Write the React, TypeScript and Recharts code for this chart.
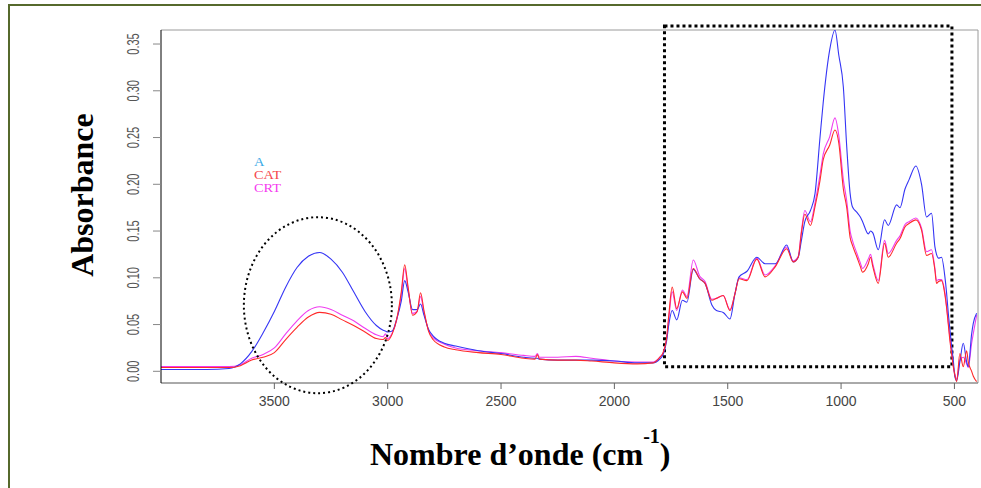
import React from "react";
import {
  LineChart,
  Line,
  XAxis,
  YAxis,
  ReferenceArea,
  ReferenceDot,
  ReferenceLine,
} from "recharts";

// FTIR spectra (wavenumber in cm-1, absorbance)
const wavenumber = [
  4000, 3900, 3800, 3700, 3650, 3600, 3550, 3500, 3450, 3400, 3350, 3300, 3250,
  3200, 3150, 3100, 3050, 3020, 3010, 3000, 2980, 2960, 2940, 2925, 2910, 2890,
  2870, 2855, 2840, 2820, 2800, 2750, 2700, 2600, 2500, 2400, 2350, 2340, 2330,
  2250, 2170, 2100, 2000, 1900, 1830, 1800, 1785, 1770, 1760, 1745, 1725, 1700,
  1680, 1652, 1624, 1600, 1570, 1550, 1520, 1490, 1468, 1450, 1415, 1372, 1335,
  1290, 1240, 1211, 1189, 1175, 1160, 1135, 1115, 1093, 1079, 1050, 1027, 1010,
  990, 975, 960, 950, 930, 915, 905, 880, 870, 860, 836, 808, 792, 755, 740, 718,
  700, 670, 645, 623, 601, 586, 579, 570, 557, 542, 535, 527, 520, 512, 505, 498,
  490, 476, 461, 446, 439, 424, 417, 402,
];

const seriesA = [
  0.002, 0.002, 0.002, 0.003, 0.008, 0.021, 0.041, 0.064, 0.09, 0.111, 0.123,
  0.127, 0.12, 0.106, 0.085, 0.064, 0.049, 0.044, 0.043, 0.042, 0.043, 0.056,
  0.075, 0.097, 0.085, 0.066, 0.066, 0.072, 0.06, 0.045, 0.038, 0.03, 0.027,
  0.022, 0.019, 0.015, 0.014, 0.014, 0.013, 0.012, 0.012, 0.012, 0.011, 0.009,
  0.009, 0.013, 0.018, 0.032, 0.05, 0.065, 0.055, 0.076, 0.074, 0.109, 0.099,
  0.094, 0.071, 0.065, 0.063, 0.056, 0.083, 0.101, 0.107, 0.122, 0.115, 0.115,
  0.135, 0.117, 0.122, 0.14, 0.16, 0.172, 0.19, 0.25, 0.287, 0.344, 0.365,
  0.338, 0.304, 0.24, 0.19, 0.176, 0.17, 0.165, 0.16, 0.147, 0.15, 0.148, 0.13,
  0.162, 0.156, 0.178, 0.175, 0.195, 0.205, 0.2195, 0.2, 0.165, 0.169, 0.133,
  0.125, 0.121, 0.122, 0.101, 0.085, 0.062, 0.045, 0.026, 0.012, -0.006, -0.01,
  0.01, 0.03, 0.01, 0.005, 0.04, 0.051, 0.062,
];

const seriesCAT = [
  0.004, 0.004, 0.004, 0.004, 0.006, 0.012, 0.015, 0.02, 0.034, 0.047, 0.058,
  0.063, 0.061, 0.055, 0.049, 0.042, 0.035, 0.034, 0.036, 0.033, 0.04, 0.056,
  0.085, 0.114, 0.09, 0.06, 0.064, 0.084, 0.065, 0.043, 0.034, 0.026, 0.023,
  0.02, 0.018, 0.014, 0.013, 0.018, 0.013, 0.012, 0.012, 0.011, 0.009, 0.008,
  0.009, 0.015, 0.02, 0.035, 0.06, 0.09, 0.067, 0.085, 0.078, 0.11, 0.099,
  0.094, 0.076, 0.078, 0.081, 0.065, 0.083, 0.099, 0.097, 0.12, 0.101, 0.112,
  0.131, 0.117, 0.122, 0.148, 0.168, 0.156, 0.176, 0.204, 0.226, 0.242, 0.258,
  0.244, 0.195, 0.175, 0.143, 0.135, 0.122, 0.112, 0.106, 0.115, 0.122, 0.112,
  0.094, 0.137, 0.122, 0.137, 0.142, 0.1545, 0.158, 0.162, 0.151, 0.124, 0.126,
  0.108, 0.094, 0.096, 0.097, 0.082, 0.069, 0.05, 0.033, 0.018, 0.005, -0.004,
  -0.011, 0.019, 0.005, 0.022, 0.01, 0.0, -0.005, -0.011,
];

const seriesCRT = [
  0.005, 0.005, 0.005, 0.005, 0.007, 0.014, 0.018, 0.025, 0.04, 0.054, 0.065,
  0.069, 0.066, 0.06, 0.054, 0.046, 0.039, 0.037, 0.04, 0.035, 0.041, 0.055,
  0.082, 0.11, 0.088, 0.062, 0.064, 0.08, 0.063, 0.044, 0.036, 0.029, 0.025,
  0.022, 0.02, 0.017, 0.016, 0.019, 0.015, 0.015, 0.016, 0.014, 0.011, 0.01,
  0.01, 0.015, 0.02, 0.034, 0.056, 0.085, 0.065, 0.087, 0.08, 0.119, 0.102,
  0.096, 0.077, 0.078, 0.081, 0.066, 0.083, 0.1, 0.098, 0.121, 0.103, 0.113,
  0.133, 0.118, 0.123, 0.15, 0.172, 0.16, 0.18, 0.21, 0.232, 0.251, 0.271,
  0.252, 0.205, 0.182, 0.15, 0.14, 0.126, 0.116, 0.11, 0.12, 0.125, 0.115,
  0.097, 0.14, 0.126, 0.14, 0.145, 0.157, 0.16, 0.164, 0.153, 0.128, 0.13,
  0.11, 0.097, 0.098, 0.098, 0.084, 0.07, 0.052, 0.036, 0.02, 0.006, -0.003,
  -0.008, 0.012, 0.015, 0.008, 0.004, 0.03, 0.04, 0.06,
];

const xTicks = [3500, 3000, 2500, 2000, 1500, 1000, 500];
const yTicks = [0, 0.05, 0.1, 0.15, 0.2, 0.25, 0.3, 0.35];

const legendItems = [
  { name: "A", color: "#36a9e6" },
  { name: "CAT", color: "#f5474c" },
  { name: "CRT", color: "#f53cf0" },
];

const data = wavenumber.map((w, i) => ({
  w,
  A: seriesA[i],
  CAT: seriesCAT[i],
  CRT: seriesCRT[i],
}));

const SANS = "'Liberation Sans', Arial, Helvetica, sans-serif";
const SERIF = "'Liberation Serif', 'Times New Roman', serif";

function YTick({ x, y, payload }: any) {
  return (
    <text
      transform={`translate(${x - 17},${y}) scale(1.45,1) rotate(-90)`}
      textAnchor="middle"
      dominantBaseline="central"
      fill="#555"
      fontSize={11}
      fontFamily={SANS}
    >
      {Number(payload.value).toFixed(2)}
    </text>
  );
}

const dottedEllipse = (props: any) => (
  <ellipse
    cx={props.cx}
    cy={props.cy}
    rx={74}
    ry={88}
    fill="none"
    stroke="#000"
    strokeWidth={2}
    strokeDasharray="2 3"
  />
);

export default function App() {
  return (
    <div
      style={{
        position: "fixed",
        left: 0,
        top: 0,
        width: 981,
        height: 488,
        overflow: "hidden",
        background: "#fff",
      }}
    >
      <div
        style={{
          position: "absolute",
          left: 8,
          top: 4,
          width: 1000,
          height: 520,
          border: "2px solid #56692c",
        }}
      />
      <div style={{ position: "absolute", left: 0, top: 0 }}>
        <LineChart
          width={981}
          height={488}
          data={data}
          margin={{ top: 30, right: 3, bottom: 75, left: 101 }}
        >
          <XAxis
            dataKey="w"
            type="number"
            domain={[396, 4000]}
            reversed
            allowDataOverflow
            ticks={xTicks}
            tickSize={6}
            tickMargin={7}
            height={30}
            axisLine={{ stroke: "#555" }}
            tickLine={{ stroke: "#666" }}
            tick={{ fill: "#444", fontSize: 14, fontFamily: SANS }}
          />
          <YAxis
            type="number"
            domain={[-0.0125, 0.365]}
            allowDataOverflow
            ticks={yTicks}
            width={60}
            tickSize={8}
            axisLine={{ stroke: "#000" }}
            tickLine={{ stroke: "#888" }}
            tick={<YTick />}
          />
          <ReferenceLine y={0.365} stroke="#9a9a9a" ifOverflow="visible" />
          <ReferenceLine x={396} stroke="#9a9a9a" ifOverflow="visible" />
          <Line
            dataKey="CRT"
            stroke="#f03cf0"
            strokeWidth={1.1}
            dot={false}
            type="monotone"
            isAnimationActive={false}
          />
          <Line
            dataKey="A"
            stroke="#3535f5"
            strokeWidth={1.1}
            dot={false}
            type="monotone"
            isAnimationActive={false}
          />
          <Line
            dataKey="CAT"
            stroke="#ff2a2a"
            strokeWidth={1.1}
            dot={false}
            type="monotone"
            isAnimationActive={false}
          />
          <ReferenceArea
            x1={1779}
            x2={511}
            y1={0.005}
            y2={0.3694}
            ifOverflow="visible"
            fill="none"
            fillOpacity={0}
            stroke="#000"
            strokeWidth={3}
            strokeDasharray="3 3"
          />
          <ReferenceDot
            x={3308}
            y={0.0707}
            r={1}
            ifOverflow="visible"
            shape={dottedEllipse}
          />
        </LineChart>
      </div>
      <div
        style={{
          position: "absolute",
          left: 254,
          top: 156,
          fontFamily: SERIF,
          fontSize: 12,
          lineHeight: "13px",
          transform: "scaleX(1.2)",
          transformOrigin: "left top",
        }}
      >
        {legendItems.map((it) => (
          <div key={it.name} style={{ color: it.color }}>
            {it.name}
          </div>
        ))}
      </div>
      <svg
        width={981}
        height={488}
        style={{ position: "absolute", left: 0, top: 0, pointerEvents: "none" }}
      >
        <text
          transform="translate(93,195) rotate(-90)"
          textAnchor="middle"
          fontFamily={SERIF}
          fontWeight="bold"
          fontSize={32}
          fill="#000"
        >
          Absorbance
        </text>
        <text x={370} y={465} fontFamily={SERIF} fontWeight="bold" fontSize={32} fill="#000">
          Nombre d’onde (cm
          <tspan fontSize={20} dy={-22}>
            -1
          </tspan>
          <tspan dy={22}>)</tspan>
        </text>
      </svg>
    </div>
  );
}
